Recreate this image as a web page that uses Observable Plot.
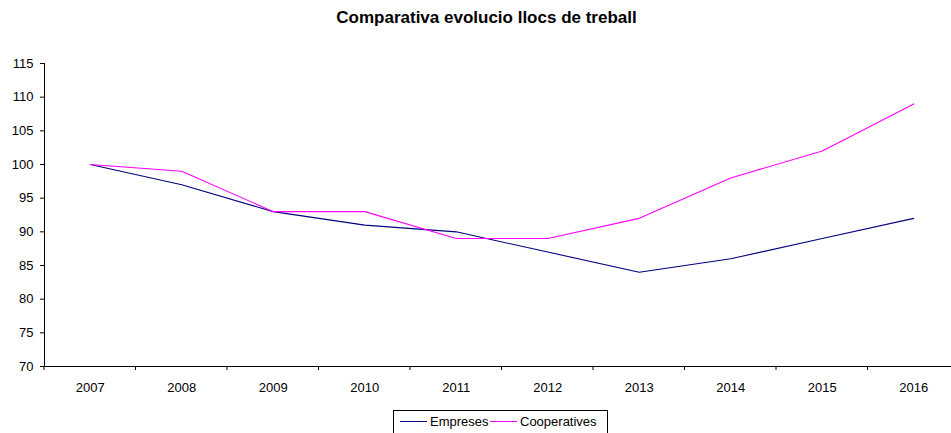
<!DOCTYPE html>
<html>
<head>
<meta charset="utf-8">
<script src="https://cdn.jsdelivr.net/npm/d3@7"></script>
<script src="https://cdn.jsdelivr.net/npm/@observablehq/plot@0.6"></script>
<style>
  html, body { margin: 0; padding: 0; background: #fff; overflow: hidden; }
  body { width: 951px; height: 433px; position: relative; font-family: "Liberation Sans", Arial, sans-serif; }
  #title { position: absolute; left: 0; top: 8px; width: 973px; text-align: center; font-weight: bold; font-size: 17px; line-height: 20px; color: #000; }
  #chart { position: absolute; left: 0; top: 40px; }
  #legend { position: absolute; left: 393px; top: 410px; width: 215px; height: 24px; border: 1px solid #000; box-sizing: border-box; font-size: 13px; color: #000; }
  .item { position: absolute; top: 3px; display: flex; align-items: center; }
  .sw { display: inline-block; width: 27px; height: 0; border-top: 1px solid; margin-right: 3px; }
</style>
</head>
<body>
<div id="title">Comparativa evolucio llocs de treball</div>
<div id="chart"></div>
<div id="legend"></div>
<script>
const years = ["2007","2008","2009","2010","2011","2012","2013","2014","2015","2016"];
const empreses = [100, 97, 93, 91, 90, 87, 84, 86, 89, 92];
const cooperatives = [100, 99, 93, 93, 89, 89, 92, 98, 102, 109];
const yTicks = [70, 75, 80, 85, 90, 95, 100, 105, 110, 115];
const seriesNames = ["Empreses", "Cooperatives"];
const seriesColors = ["#000080", "#FF00FF"];

const rows = [];
years.forEach((y, i) => {
  rows.push({year: y, value: empreses[i], series: seriesNames[0]});
  rows.push({year: y, value: cooperatives[i], series: seriesNames[1]});
});

const W = 951, H = 355;
const mL = 44, mT = 23, mB = 29;
const band = 91.5;
const chart = Plot.plot({
  width: W,
  height: H,
  marginLeft: mL,
  marginRight: 0,
  marginTop: mT,
  marginBottom: mB,
  style: {fontFamily: "'Liberation Sans', Arial, sans-serif", fontSize: "13px", color: "#000", background: "#fff"},
  x: {type: "band", domain: years, range: [mL, mL + band * years.length], padding: 0, round: false, axis: null},
  y: {domain: [70, 115], ticks: yTicks, tickSize: 4, tickPadding: 7, label: null, tickFormat: d => String(d)},
  color: {domain: seriesNames, range: seriesColors},
  marks: [
    Plot.frame({anchor: "left", stroke: "#000"}),
    Plot.ruleY([70], {stroke: "#000"}),
    Plot.text(years, {x: d => d, y: 70, dy: 21, text: d => d, fill: "#000", fontSize: 13}),
    Plot.line(rows, {x: "year", y: "value", z: "series", stroke: "series", strokeWidth: 1.1}),
  ]
});
document.getElementById("chart").appendChild(chart);

// x tick marks between categories, positioned with the x scale
const xs = chart.scale("x"), ys = chart.scale("y");
const svg = d3.select(chart);
const y70 = ys.apply(70);
years.forEach((yr) => {
  const xb = xs.apply(yr);
  svg.append("line").attr("x1", xb).attr("x2", xb).attr("y1", y70).attr("y2", y70 + 4).attr("stroke", "#000");
});

const legend = document.getElementById("legend");
const lefts = [6, 96];
seriesNames.forEach((n, i) => {
  const d = document.createElement("div");
  d.className = "item";
  d.style.left = lefts[i] + "px";
  d.innerHTML = `<span class="sw" style="border-color:${seriesColors[i]}"></span><span>${n}</span>`;
  legend.appendChild(d);
});
</script>
</body>
</html>
